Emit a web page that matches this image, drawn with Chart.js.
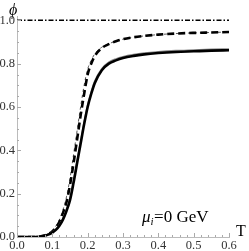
<!DOCTYPE html>
<html>
<head>
<meta charset="utf-8">
<script src="https://cdn.jsdelivr.net/npm/chart.js@4/dist/chart.umd.min.js"></script>
<style>
html,body{margin:0;padding:0;background:#fff;}
canvas{display:block;}
</style>
</head>
<body>
<canvas id="c" width="249" height="251"></canvas>
<script>
const temps = [0,0.02,0.04,0.06,0.08,0.09,0.1,0.11,0.12,0.13,0.14,0.15,0.16,0.17,0.18,0.19,0.2,0.21,0.22,0.24,0.26,0.28,0.3,0.33,0.36,0.4,0.45,0.5,0.55,0.6];
const phiSolid = [0,0,0,0.001,0.006,0.012,0.02,0.033,0.052,0.08,0.12,0.17,0.25,0.34,0.43,0.52,0.6,0.66,0.71,0.77,0.80,0.815,0.826,0.836,0.843,0.849,0.854,0.857,0.86,0.862];
const phiGray = [0,0,0,0.001,0.007,0.013,0.022,0.036,0.056,0.086,0.128,0.18,0.26,0.35,0.44,0.53,0.61,0.67,0.72,0.777,0.807,0.822,0.832,0.842,0.849,0.855,0.86,0.863,0.866,0.868];
const phiDashThick = [0,0,0,0.001,0.008,0.015,0.026,0.043,0.07,0.11,0.16,0.24,0.34,0.45,0.56,0.66,0.75,0.8,0.835,0.872,0.89,0.903,0.913,0.922,0.928,0.934,0.939,0.942,0.944,0.946];
const phiDashThin = [0,0,0,0.001,0.009,0.017,0.03,0.05,0.08,0.125,0.185,0.27,0.38,0.49,0.6,0.7,0.775,0.815,0.845,0.876,0.892,0.904,0.913,0.922,0.928,0.934,0.939,0.942,0.944,0.946];
const refTemps = [0,0.6];
const refPhi = [1,1];
const xTicks = [0,0.1,0.2,0.3,0.4,0.5,0.6];
const yTicks = [0,0.2,0.4,0.6,0.8,1.0];

const pts = (xs, ys) => xs.map((x,i)=>({x:x,y:ys[i]}));
const serif = '"Liberation Serif","DejaVu Serif",serif';

const annot = {
  id:'annot',
  afterDraw(chart){
    const ctx = chart.ctx;
    const xs = chart.scales.x, ys = chart.scales.y;
    ctx.save();
    ctx.strokeStyle = '#aaa';
    ctx.lineWidth = 1;
    const y0 = ys.getPixelForValue(0);
    const x0 = xs.getPixelForValue(0);
    for (let k=0;k<=30;k++){
      const v = k*0.02;
      const px = Math.round(xs.getPixelForValue(v))+0.5;
      const len = (k%5===0)?4:2;
      ctx.beginPath(); ctx.moveTo(px, y0); ctx.lineTo(px, y0-len); ctx.stroke();
    }
    for (let k=0;k<=20;k++){
      const v = k*0.05;
      const py = Math.round(ys.getPixelForValue(v))+0.5;
      const len = (k%4===0)?4:2;
      ctx.beginPath(); ctx.moveTo(x0, py); ctx.lineTo(x0+len, py); ctx.stroke();
    }
    ctx.fillStyle = '#000';
    ctx.textBaseline = 'alphabetic';
    ctx.textAlign = 'left';
    ctx.font = 'italic 16px ' + serif;
    ctx.fillText('\u03D5', 9, 15);
    ctx.font = '16px ' + serif;
    ctx.fillText('T', 236, 236);
    let x = 142, base = 222;
    ctx.font = 'italic 17px ' + serif;
    ctx.fillText('\u03BC', x, base);
    x += ctx.measureText('\u03BC').width;
    ctx.font = 'italic 11px ' + serif;
    ctx.fillText('i', x, base+3);
    x += ctx.measureText('i').width + 0.5;
    ctx.font = '17px ' + serif;
    ctx.fillText('=0 GeV', x, base);
    ctx.restore();
  }
};

new Chart(document.getElementById('c'), {
  type:'line',
  data:{
    datasets:[
      {data:pts(temps,phiSolid), borderColor:'#000', borderWidth:2.6, pointRadius:0, cubicInterpolationMode:'monotone', fill:false},
      {data:pts(temps,phiGray), borderColor:'#8a8a8a', borderWidth:1.6, pointRadius:0, cubicInterpolationMode:'monotone', fill:false},
      {data:pts(temps,phiDashThick), borderColor:'#000', borderWidth:2.6, borderDash:[7,4], pointRadius:0, cubicInterpolationMode:'monotone', fill:false},
      {data:pts(temps,phiDashThin), borderColor:'#555', borderWidth:1, borderDash:[3,3], pointRadius:0, cubicInterpolationMode:'monotone', fill:false},
      {data:pts(refTemps,refPhi), borderColor:'#000', borderWidth:1.5, borderDash:[5,2,1.5,2], pointRadius:0, fill:false}
    ]
  },
  options:{
    responsive:false,
    animation:false,
    devicePixelRatio:1,
    layout:{padding:{left:0,right:20,top:16,bottom:0}},
    plugins:{legend:{display:false},tooltip:{enabled:false}},
    scales:{
      x:{
        type:'linear', min:0, max:0.6,
        afterBuildTicks(s){ s.ticks = xTicks.map(v=>({value:v})); },
        afterFit(s){ s.height = 14; },
        ticks:{callback:v=>v.toFixed(1), font:{family:serif,size:12.5}, color:'#333', padding:1, maxRotation:0, autoSkip:false},
        grid:{drawOnChartArea:false, drawTicks:false},
        border:{color:'#bbb', width:1}
      },
      y:{
        type:'linear', min:0, max:1.02,
        afterBuildTicks(s){ s.ticks = yTicks.map(v=>({value:v})); },
        afterFit(s){ s.width = 17; },
        ticks:{callback:v=>v.toFixed(1), font:{family:serif,size:12.5}, color:'#333', padding:2, autoSkip:false},
        grid:{drawOnChartArea:false, drawTicks:false},
        border:{color:'#bbb', width:1}
      }
    }
  },
  plugins:[annot]
});
</script>
</body>
</html>
